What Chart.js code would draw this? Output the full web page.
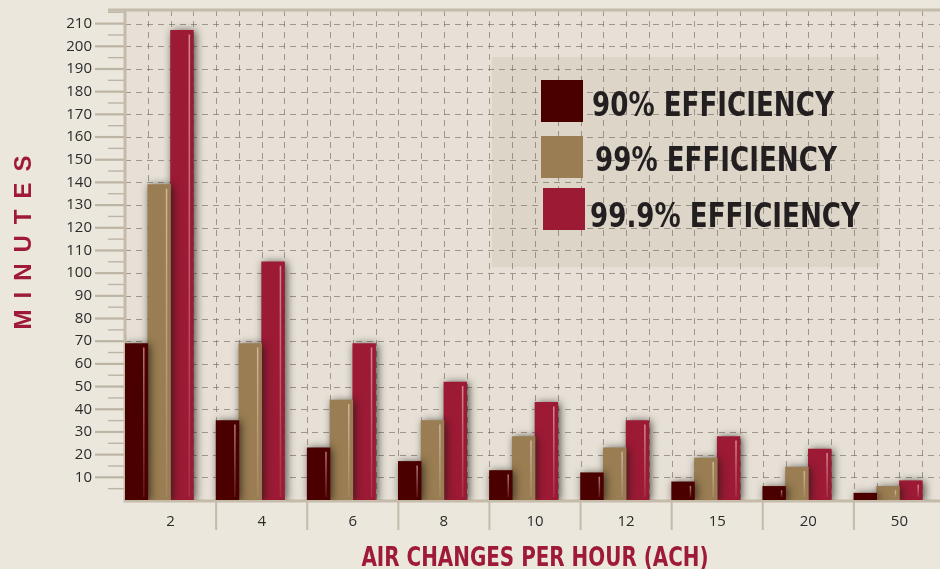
<!DOCTYPE html>
<html>
<head>
<meta charset="utf-8">
<script src="https://cdn.jsdelivr.net/npm/chart.js@4.4.1/dist/chart.umd.min.js"></script>
<style>
  html, body { margin: 0; padding: 0; background: #ebe7dd; overflow: hidden; }
  /* plot runs a few pixels past the right edge of the window, as in the original */
  #wrap { width: 945px; height: 569px; position: relative; }
</style>
</head>
<body>
<div id="wrap"><canvas id="achChart"></canvas></div>
<script>
// data
const achLabels = ['2', '4', '6', '8', '10', '12', '15', '20', '50'];
const eff90 = [69, 35, 23, 17, 13, 12, 8, 6, 3];
const eff99 = [139, 69, 44, 35, 28, 23, 18.5, 14.5, 6];
const eff999 = [207, 105, 69, 52, 43, 35, 28, 22.5, 8.5];
const seriesNames = ['90% EFFICIENCY', '99% EFFICIENCY', '99.9% EFFICIENCY'];
const seriesColors = ['#4b0000', '#9a7d52', '#9d1a35'];
const yMax = 216;

const narrow = '"Liberation Sans Narrow", "Arial Narrow", "DejaVu Sans Condensed", sans-serif';

// draws condensed text by squeezing horizontally
function squeezeText(ctx, text, x, y, k) {
    ctx.save();
    ctx.translate(x, y);
    ctx.scale(k, 1);
    ctx.fillText(text, 0, 0);
    ctx.restore();
}

const decor = {
    id: 'decor',
    beforeDraw(chart) {
        const ctx = chart.ctx;
        const a = chart.chartArea;
        ctx.save();
        ctx.fillStyle = '#ebe7dd';
        ctx.fillRect(0, 0, chart.width, chart.height);
        ctx.fillStyle = '#e6e0d6';
        ctx.fillRect(a.left, a.top, a.right - a.left, a.bottom - a.top);

        // legend panel
        ctx.fillStyle = '#ddd6c8';
        ctx.fillRect(492, 57, 388, 210);

        // dashed grid
        const y = chart.scales.y, x = chart.scales.x;
        ctx.strokeStyle = 'rgba(110,100,90,0.6)';
        ctx.lineWidth = 1;
        ctx.setLineDash([6, 5]);
        for (let v = 10; v <= 210; v += 10) {
            const py = Math.round(y.getPixelForValue(v)) + 0.5;
            ctx.beginPath(); ctx.moveTo(a.left, py); ctx.lineTo(a.right, py); ctx.stroke();
        }
        const catW = (a.right - a.left) / achLabels.length;
        for (let i = 0; i < achLabels.length; i++) {
            for (let k = 1; k <= 4; k++) {
                const px = Math.round(x.getPixelForValue(i) - catW / 2 + k * catW / 4) + 0.5;
                ctx.beginPath(); ctx.moveTo(px, a.top); ctx.lineTo(px, a.bottom); ctx.stroke();
            }
        }
        ctx.setLineDash([]);

        // y ticks, major and minor
        ctx.strokeStyle = '#bdb4a3';
        for (let v = 5; v <= 215; v += 5) {
            const py = y.getPixelForValue(v);
            const major = v % 10 === 0;
            ctx.lineWidth = major ? 2.2 : 1.4;
            ctx.beginPath(); ctx.moveTo(major ? 95 : 108, py); ctx.lineTo(a.left, py); ctx.stroke();
        }

        // frame
        ctx.strokeStyle = '#c4bbaa';
        ctx.lineWidth = 3;
        ctx.beginPath();
        ctx.moveTo(108, a.top); ctx.lineTo(a.right, a.top);
        ctx.moveTo(a.left, a.top); ctx.lineTo(a.left, a.bottom + 1);
        ctx.lineTo(a.right, a.bottom + 1);
        ctx.stroke();

        // category separators below the axis
        ctx.lineWidth = 2;
        for (let i = 1; i < achLabels.length; i++) {
            const px = x.getPixelForValue(i) - catW / 2;
            ctx.beginPath(); ctx.moveTo(px, a.bottom + 2); ctx.lineTo(px, a.bottom + 30); ctx.stroke();
        }
        ctx.restore();
    },
    beforeDatasetDraw(chart) {
        const ctx = chart.ctx;
        ctx.save();
        ctx.shadowColor = 'rgba(30,25,20,0.75)';
        ctx.shadowBlur = 8;
        ctx.shadowOffsetX = 2;
        ctx.shadowOffsetY = 1;
    },
    afterDatasetDraw(chart) {
        chart.ctx.restore();
    },
    afterDatasetsDraw(chart) {
        const ctx = chart.ctx;
        ctx.save();
        // glossy highlight on each bar
        for (let d = 0; d < 3; d++) {
            chart.getDatasetMeta(d).data.forEach(bar => {
                const p = bar.getProps(['x', 'y', 'base', 'width'], true);
                const hx = p.x + p.width / 2 - 4;
                const top = p.y + 4, bot = p.base - 3;
                if (bot - top < 6) return;
                const g = ctx.createLinearGradient(0, top, 0, bot);
                g.addColorStop(0, 'rgba(255,225,225,0.55)');
                g.addColorStop(1, 'rgba(255,225,225,0.1)');
                ctx.strokeStyle = g;
                ctx.lineWidth = 1.5;
                ctx.beginPath(); ctx.moveTo(hx, top); ctx.lineTo(hx, bot); ctx.stroke();
            });
        }

        // legend
        const rows = [[541, 80, 592, 116], [541, 136, 595, 171], [543, 188, 590, 227]];
        ctx.font = 'bold 34px ' + narrow;
        ctx.textBaseline = 'alphabetic';
        ctx.textAlign = 'left';
        rows.forEach((r, i) => {
            ctx.fillStyle = seriesColors[i];
            ctx.fillRect(r[0], r[1], 42, 42);
            ctx.fillStyle = '#231f20';
            squeezeText(ctx, seriesNames[i], r[2], r[3], 0.855);
        });

        // axis titles
        ctx.fillStyle = '#9e1a38';
        ctx.font = 'bold 27px ' + narrow;
        ctx.textAlign = 'center';
        squeezeText(ctx, 'AIR CHANGES PER HOUR (ACH)', 535, 566, 0.82);

        ctx.translate(23, 240);
        ctx.rotate(-Math.PI / 2);
        ctx.font = 'bold 24px "Liberation Sans", sans-serif';
        ctx.letterSpacing = '11px';
        ctx.textBaseline = 'middle';
        ctx.fillText('MINUTES', 3, 1);
        ctx.restore();
    }
};

const ctx = document.getElementById('achChart').getContext('2d');
new Chart(ctx, {
    type: 'bar',
    data: {
        labels: achLabels,
        datasets: [
            { label: seriesNames[0], data: eff90, backgroundColor: seriesColors[0] },
            { label: seriesNames[1], data: eff99, backgroundColor: seriesColors[1] },
            { label: seriesNames[2], data: eff999, backgroundColor: seriesColors[2] },
            // empty slot so the bars sit in the left three quarters of each group
            { label: '', data: [], backgroundColor: 'rgba(0,0,0,0)' }
        ]
    },
    options: {
        responsive: true,
        maintainAspectRatio: false,
        animation: false,
        devicePixelRatio: 1,
        layout: { padding: 0 },
        datasets: { bar: { categoryPercentage: 1.0, barPercentage: 1.0 } },
        plugins: { legend: { display: false }, tooltip: { enabled: false } },
        scales: {
            x: {
                grid: { display: false, drawTicks: false },
                border: { display: false },
                ticks: { color: '#2b2b2b', font: { family: '"Open Sans", sans-serif', size: 15 }, padding: 13 },
                afterFit(scale) { scale.height = 69; }
            },
            y: {
                min: 0,
                max: yMax,
                grid: { display: false, drawTicks: true, tickLength: 32 },
                border: { display: false },
                ticks: {
                    stepSize: 5,
                    autoSkip: false,
                    color: '#2b2b2b',
                    font: { family: '"Open Sans", sans-serif', size: 15 },
                    padding: 1,
                    callback: v => (v % 10 === 0 && v > 0 && v <= 210) ? String(v) : ''
                },
                afterFit(scale) { scale.width = 125; }
            }
        }
    },
    plugins: [decor]
});
</script>
</body>
</html>
